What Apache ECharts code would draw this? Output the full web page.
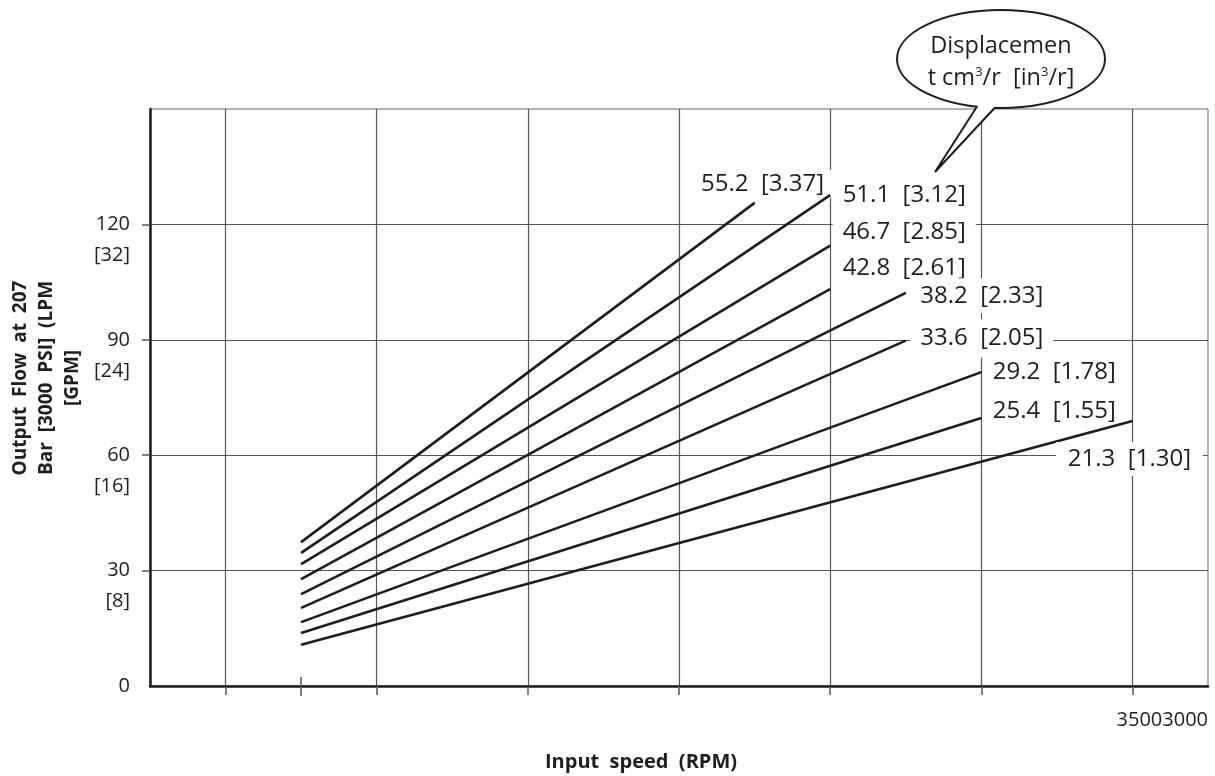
<!DOCTYPE html>
<html>
<head>
<meta charset="utf-8">
<script src="https://cdn.jsdelivr.net/npm/echarts@6/dist/echarts.min.js"></script>
<style>
  html, body { margin: 0; padding: 0; background: #fff; }
  #main { width: 1215px; height: 776px; }
</style>
</head>
<body>
<div id="main"></div>
<script>
// displacement of each curve, cm3/r and in3/r
const dispCm = [55.2, 51.1, 46.7, 42.8, 38.2, 33.6, 29.2, 25.4, 21.3];
const dispIn = ['3.37', '3.12', '2.85', '2.61', '2.33', '2.05', '1.78', '1.55', '1.30'];
const startSpeed = [500, 500, 500, 500, 500, 500, 500, 500, 500];
const startFlow = [37.4, 34.6, 31.7, 27.8, 23.9, 20.3, 16.6, 13.8, 10.7];
const endSpeed = [2000, 2250, 2250, 2250, 2500, 2500, 2750, 2750, 3250];
const endFlow = [125.6, 127.6, 114.5, 103.2, 102.2, 89.8, 81.6, 69.7, 68.9];
// axis ticks
const lpmTicks = [0, 30, 60, 90, 120];
const gpmTicks = ['', '8', '16', '24', '32'];
const gridSpeeds = [250, 750, 1250, 1750, 2250, 2750, 3250];
const shortTick = [500];
const cornerLabel = '35003000';

// where each curve label sits relative to the end of its line
const labelPlace = [
  { position: 'inside', offset: [8, -19], padding: [2, 8] },
  { position: 'right', offset: [2, 0], padding: [6, 10] },
  { position: 'right', offset: [2, -13], padding: [6, 10] },
  { position: 'right', offset: [2, -21], padding: [6, 10] },
  { position: 'right', offset: [4, 3], padding: [5, 10, 6, 10] },
  { position: 'right', offset: [4, -2], padding: [6, 10, 8, 10] },
  { position: 'right', offset: [3, 0], padding: [6, 8] },
  { position: 'right', offset: [3, -7], padding: [6, 8, 2, 8] },
  { position: 'inside', offset: [-3, 38], padding: [0, 12, 10, 12] }
];

const FONT = '"Open Sans", "Noto Sans", sans-serif';
const INK = '#1e1e1e';

const chart = echarts.init(document.getElementById('main'));

// later curves sit above earlier labels so a label box never hides a lower line
const series = dispCm.map((d, i) => ({
  name: String(d),
  type: 'line',
  symbol: 'circle',
  symbolSize: 1,
  showSymbol: true,
  animation: false,
  silent: true,
  itemStyle: { color: INK },
  lineStyle: { color: INK, width: 2.6 },
  z: 3 + i,
  data: [
    [startSpeed[i], startFlow[i]],
    {
      value: [endSpeed[i], endFlow[i]],
      label: {
        show: true,
        position: labelPlace[i].position,
        distance: 0,
        offset: labelPlace[i].offset,
        formatter: d + '  [' + dispIn[i] + ']',
        fontFamily: FONT,
        fontSize: 24,
        color: INK,
        backgroundColor: '#fff',
        padding: labelPlace[i].padding
      }
    }
  ]
}));

const option = {
  backgroundColor: '#fff',
  animation: false,
  grid: {
    left: 150, right: 7, top: 109, bottom: 90,
    show: true, borderColor: '#666', borderWidth: 1
  },
  xAxis: [
    {
      type: 'value',
      min: 0,
      max: 3500,
      axisLine: { show: true, lineStyle: { color: INK, width: 2.5 } },
      axisTick: { show: true, customValues: gridSpeeds, length: 9, lineStyle: { color: '#555', width: 1.5 } },
      splitLine: { show: true, lineStyle: { color: '#555', width: 1.2 } },
      axisLabel: {
        show: true,
        customValues: [3500],
        showMaxLabel: true,
        formatter: () => cornerLabel,
        align: 'right',
        margin: 24,
        fontFamily: FONT,
        fontSize: 20,
        color: INK
      }
    },
    {
      type: 'value',
      min: 0,
      max: 3500,
      position: 'bottom',
      offset: -9,
      axisLine: { show: false },
      axisTick: { show: true, customValues: shortTick, length: 19, lineStyle: { color: '#555', width: 1.5 } },
      splitLine: { show: false },
      axisLabel: { show: false }
    }
  ],
  yAxis: {
    type: 'value',
    min: 0,
    max: 150,
    interval: 30,
    axisLine: { show: true, lineStyle: { color: INK, width: 2.5 } },
    axisTick: { show: true, customValues: lpmTicks.slice(1), length: 8, lineStyle: { color: '#555', width: 1.5 } },
    splitLine: { show: true, lineStyle: { color: '#555', width: 1.2 } },
    axisLabel: {
      customValues: lpmTicks,
      margin: 20,
      fontFamily: FONT,
      fontSize: 20,
      lineHeight: 31,
      color: INK,
      formatter: (v) => {
        const k = lpmTicks.indexOf(v);
        if (k < 0) return '';
        return gpmTicks[k] ? ' \n' + v + '\n[' + gpmTicks[k] + ']' : String(v);
      }
    }
  },
  graphic: [
    {
      type: 'text',
      x: 47, y: 378,
      rotation: Math.PI / 2,
      style: {
        text: 'Output  Flow  at  207\nBar  [3000  PSI]  (LPM\n[GPM]',
        fontFamily: FONT, fontSize: 19, fontWeight: 'bold',
        lineHeight: 26, fill: INK,
        align: 'center', verticalAlign: 'middle'
      }
    },
    {
      type: 'text',
      x: 641, y: 762,
      style: {
        text: 'Input  speed  (RPM)',
        fontFamily: FONT, fontSize: 20, fontWeight: 'bold', fill: INK,
        align: 'center', verticalAlign: 'middle'
      }
    },
    {
      type: 'ellipse',
      z: 100,
      shape: { cx: 1001, cy: 59, rx: 104, ry: 49 },
      style: { fill: '#fff', stroke: INK, lineWidth: 2 }
    },
    {
      type: 'polygon',
      z: 101,
      shape: { points: [[978, 100], [978, 106], [935, 172], [995, 107], [995, 100]] },
      style: { fill: '#fff', stroke: null }
    },
    {
      type: 'polyline',
      z: 102,
      shape: { points: [[977, 106.5], [935, 172], [995, 107.5]] },
      style: { stroke: INK, lineWidth: 2, fill: null }
    },
    {
      type: 'text',
      z: 103,
      x: 1001, y: 46,
      style: {
        text: 'Displacemen',
        fontFamily: FONT, fontSize: 23.5, fill: INK,
        align: 'center', verticalAlign: 'middle'
      }
    },
    {
      type: 'text',
      z: 103,
      x: 1001, y: 78,
      style: {
        text: 't cm{sup|3}/r  [in{sup|3}/r]',
        fontFamily: FONT, fontSize: 23.5, fill: INK,
        align: 'center', verticalAlign: 'middle',
        rich: {
          sup: { fontFamily: FONT, fontSize: 13, verticalAlign: 'top', fill: INK }
        }
      }
    }
  ],
  series: series
};

chart.setOption(option);
</script>
</body>
</html>
